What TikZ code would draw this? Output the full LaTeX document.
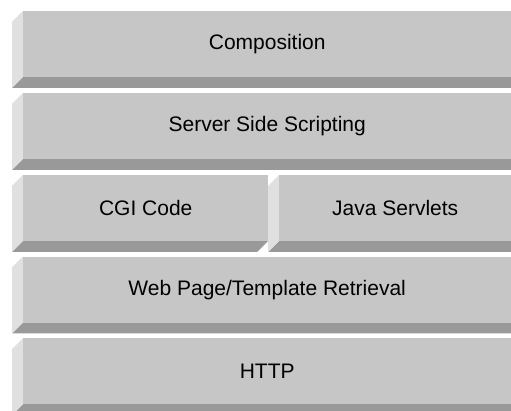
\documentclass[tikz,border=0pt]{standalone}
\usepackage{fontspec}
\setmainfont{Liberation Sans}
\definecolor{face}{RGB}{198,198,198}
\definecolor{lside}{RGB}{224,224,224}
\definecolor{bside}{RGB}{153,153,153}
\tikzset{
  layerface/.style={fill=face, draw=none, anchor=north west, inner sep=0pt,
    minimum height=66pt, font=\fontsize{21}{24}\selectfont, text=black},
}
% #1 name, #2 x0, #3 y0 (top), #4 x1, #5 bevel bottom-right x, #6 text
\newcommand\layerbox[6]{%
  \fill[bside] (#2,#3+66) -- (#4,#3+66) -- (#5,#3+77) -- (#2-11,#3+77) -- cycle;
  \fill[lside] (#2,#3) -- (#2,#3+66) -- (#2-11,#3+77) -- (#2-11,#3+11) -- cycle;
  \node[layerface, minimum width=#4pt-#2pt] (#1) at (#2,#3) {#6};
}
\begin{document}
\begin{tikzpicture}[x=1pt,y=-1pt]
  \useasboundingbox (0,0) rectangle (511,411);
  \clip (0,0) rectangle (511,411);
  \fill[white] (0,0) rectangle (511,411);
  \layerbox{comp}{23}{11}{511}{511}{Composition}
  \layerbox{sss}{23}{93}{511}{511}{Server Side Scripting}
  \layerbox{cgi}{23}{175}{268}{257}{CGI Code}
  \layerbox{java}{279}{175}{511}{511}{Java Servlets}
  \layerbox{web}{23}{256.5}{511}{511}{Web Page/Template Retrieval}
  \layerbox{http}{23}{338}{511}{511}{HTTP}
\end{tikzpicture}
\end{document}
